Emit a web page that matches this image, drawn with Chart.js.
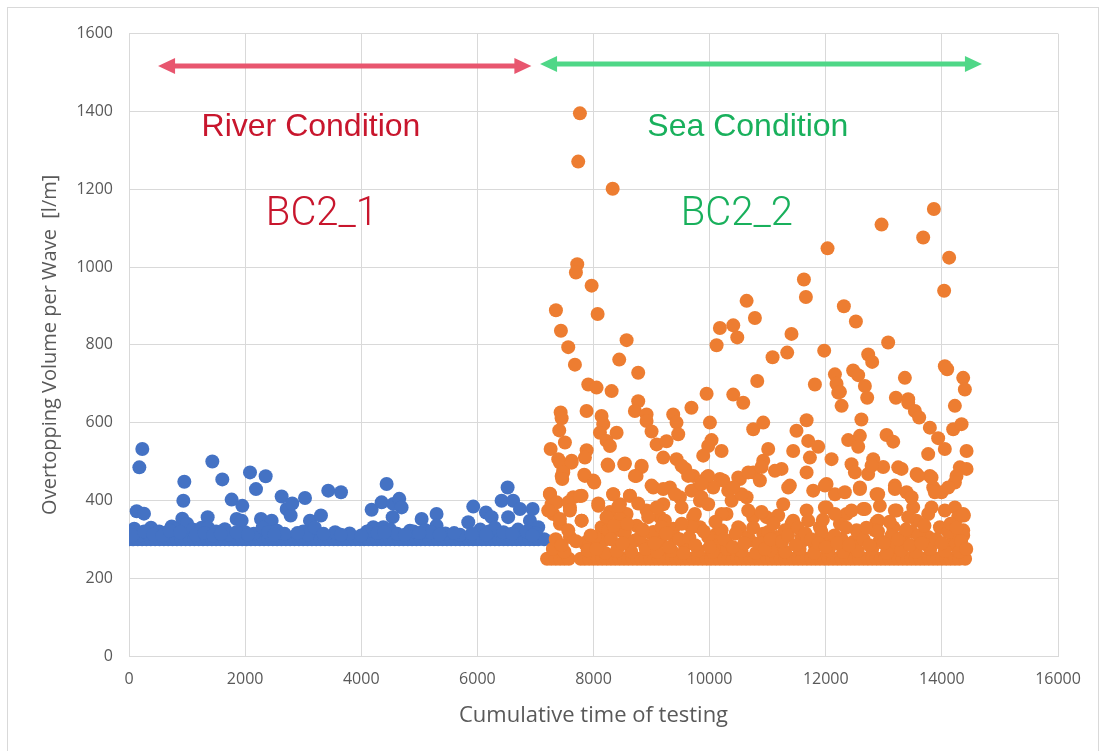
<!DOCTYPE html>
<html>
<head>
<meta charset="utf-8">
<script src="https://cdn.jsdelivr.net/npm/chart.js@4.4.1/dist/chart.umd.min.js"></script>
<style>
  html, body { margin: 0; padding: 0; background: #fff; }
  #frame { position: absolute; left: 7px; top: 7px; width: 1090px; height: 750px; border: 1px solid #d9d9d9; border-bottom: none; }
  canvas { position: absolute; left: 0; top: 0; }
</style>
</head>
<body>
<div id="frame"><canvas id="chart" width="1090" height="743"></canvas></div>
<script>
// Tick labels
const xTicks = [0, 2000, 4000, 6000, 8000, 10000, 12000, 14000, 16000];
const yTicks = [0, 200, 400, 600, 800, 1000, 1200, 1400, 1600];

// BC2_1 (river) - [time, volume]
const riverPts = [
  [0,300],[75,300],[150,300],[225,300],[300,300],[375,300],[450,300],[525,300],[600,300],[675,300],
  [750,300],[825,300],[900,300],[975,300],[1050,300],[1125,300],[1200,300],[1275,300],[1350,300],[1425,300],
  [1500,300],[1575,300],[1650,300],[1725,300],[1800,300],[1875,300],[1950,300],[2025,300],[2100,300],[2175,300],
  [2250,300],[2325,300],[2400,300],[2475,300],[2550,300],[2625,300],[2700,300],[2775,300],[2850,300],[2925,300],
  [3000,300],[3075,300],[3150,300],[3225,300],[3300,300],[3375,300],[3450,300],[3525,300],[3600,300],[3675,300],
  [3750,300],[3825,300],[3900,300],[3975,300],[4050,300],[4125,300],[4200,300],[4275,300],[4350,300],[4425,300],
  [4500,300],[4575,300],[4650,300],[4725,300],[4800,300],[4875,300],[4950,300],[5025,300],[5100,300],[5175,300],
  [5250,300],[5325,300],[5400,300],[5475,300],[5550,300],[5625,300],[5700,300],[5775,300],[5850,300],[5925,300],
  [6000,300],[6075,300],[6150,300],[6225,300],[6300,300],[6375,300],[6450,300],[6525,300],[6600,300],[6675,300],
  [6750,300],[6825,300],[6900,300],[6975,300],[7050,300],[7150,300],
  [91,327],[132,372],[178,485],[229,532],[258,366],[379,330],[735,333],[918,353],[936,399],[953,448],
  [1355,357],[1435,500],[1607,454],[1768,402],[1854,352],[1940,348],[1952,386],[2084,472],[2187,429],[2273,352],
  [2354,462],[2457,348],[2629,410],[2716,378],[2784,361],[2812,392],[3031,406],[3117,348],[3306,361],[3432,425],
  [3651,421],[4179,376],[4207,331],[4351,395],[4379,331],[4437,442],[4541,357],[4552,391],[4655,404],[4695,382],
  [4839,322],[5040,352],[5297,365],[5297,335],[5843,344],[5929,384],[6148,369],[6245,357],[6417,399],[6521,433],
  [6530,357],[6616,399],[6733,378],[6905,348],[6952,378],[7048,331],
  [40,318],[200,310],[320,315],[520,320],[650,318],[800,325],[1000,340],[1100,325],[1250,330],[1362,330],
  [1500,320],[1650,326],[1720,312],[2000,318],[2150,314],[2300,330],[2400,318],[2550,322],[2680,314],[3000,320],
  [3080,312],[3200,330],[3550,318],[3800,315],[4100,320],[4280,316],[4500,325],[4620,314],[4900,320],[5100,324],
  [5200,318],[5450,315],[5700,312],[6050,325],[6200,320],[6300,330],[6450,318],[6700,325],[6850,320],[7000,316],
  [60,310],[260,320],[420,312],[580,310],[700,322],[880,318],[1150,312],[1300,316],[1450,310],[1580,314],
  [1850,318],[2050,312],[2500,312],[2900,316],[3350,314],[3650,312],[4000,310],[4400,318],[4750,312],[5000,316],
  [5350,312],[5600,316],[5900,314],[6150,312],[6600,314],[6950,310]
];

// BC2_2 (sea) - [time, volume]
const seaPts = [
  [7200,250],[7275,250],[7350,250],[7425,250],[7500,250],[7575,250],[7780,250],[7850,250],[7925,250],[8000,250],
  [8075,250],[8150,250],[8225,250],[8300,250],[8375,250],[8450,250],[8525,250],[8600,250],[8675,250],[8750,250],
  [8825,250],[8900,250],[8975,250],[9050,250],[9125,250],[9200,250],[9275,250],[9350,250],[9425,250],[9500,250],
  [9575,250],[9650,250],[9725,250],[9800,250],[9875,250],[9950,250],[10025,250],[10100,250],[10175,250],[10250,250],
  [10325,250],[10400,250],[10475,250],[10550,250],[10625,250],[10700,250],[10775,250],[10850,250],[10925,250],[11000,250],
  [11075,250],[11150,250],[11225,250],[11300,250],[11375,250],[11450,250],[11525,250],[11600,250],[11675,250],[11750,250],
  [11825,250],[11900,250],[11975,250],[12050,250],[12125,250],[12200,250],[12275,250],[12350,250],[12425,250],[12500,250],
  [12575,250],[12650,250],[12725,250],[12800,250],[12875,250],[12950,250],[13025,250],[13100,250],[13175,250],[13250,250],
  [13325,250],[13400,250],[13475,250],[13550,250],[13625,250],[13700,250],[13775,250],[13850,250],[13925,250],[14000,250],
  [14075,250],[14150,250],[14225,250],[14300,250],[14400,250],
  [7766,1395],[7737,1271],[8330,1201],[7720,1007],[7697,986],[7968,952],[7353,889],[8071,879],[7439,836],[7565,794],
  [8570,812],[7680,749],[8443,762],[8770,728],[13862,1149],[12961,1109],[13678,1076],[14125,1024],[12031,1048],[14039,939],
  [11624,968],[11658,923],[10637,913],[10780,869],[10177,843],[10407,850],[10476,819],[10120,799],[11410,828],[12312,899],
  [12519,860],[13075,806],[11336,780],[11084,768],[11973,785],[12731,775],[12800,756],[12472,734],[12558,722],[14051,745],
  [14091,737],[14367,715],[14396,685],[13363,715],[10820,707],[11813,698],[12158,724],[12186,700],[12244,679],[12674,694],
  [9948,674],[10407,672],[13208,664],[13420,660],
  [7910,698],[8053,690],[8312,681],[10579,651],[9687,638],[7434,626],[7451,611],[7881,630],[8139,617],[8168,596],
  [8770,655],[8713,630],[8914,621],[8914,604],[9373,621],[9430,600],[10005,600],[7410,580],[8398,574],[8111,574],
  [9000,577],[9459,570],[10751,583],[7508,549],[8226,553],[8283,540],[9087,544],[9258,552],[10033,555],[9975,540],
  [10206,527],[7262,532],[7882,529],[7852,510],[7393,506],[7623,502],[9201,510],[9430,506],[9890,515],[8254,489],
  [8541,495],[8828,486],[8742,463],[7479,478],[7451,463],[7852,463],[7996,451],[9582,481],[9717,463],[9948,459],
  [10177,455],[10521,455],[10751,472],[10866,451],[9029,433],[9316,433],[9775,429],[10062,433],[10320,425],[7250,416],
  [7651,408],[7795,412],[8340,416],[8627,412],[7278,390],[7594,382],[8082,386],[8455,390],[9201,390],[9488,408],
  [9833,399],[10637,408],[7307,365],[7795,348],[8283,370],[8570,365],[8914,374],[9144,357],[9717,357],[10291,365],
  [10751,357],[7422,340],[8139,331],[8455,323],[8742,335],[9029,319],[9373,327],[9833,331],[10120,314],[10521,327],
  [10923,314],[7594,306],[7881,293],[8168,297],[8627,293],[9144,297],[9602,289],[10291,293],[10694,297],
  [12215,677],[12273,643],[12714,664],[13420,651],[13535,630],[13609,613],[14224,643],[12614,608],[10923,600],[11670,606],
  [11496,579],[11698,553],[11870,538],[12387,555],[12588,566],[12559,538],[13047,568],[13162,551],[13793,587],[13936,560],
  [14195,583],[14339,596],[14425,527],[14051,532],[13764,519],[11439,527],[11009,532],[10923,502],[11239,481],[11727,510],
  [12100,506],[12444,493],[12817,506],[12989,486],[13248,485],[13564,468],[13793,463],[14310,485],[14425,481],[14252,463],
  [11670,472],[12731,468],[11382,438],[11784,425],[12014,442],[12158,416],[12588,433],[12875,416],[13191,438],[13392,421],
  [13851,433],[13994,421],[11267,390],[11670,374],[12014,382],[12358,365],[12645,378],[12932,386],[13219,374],[13506,382],
  [13822,382],[14224,382],[14379,361],[10981,357],[11439,348],[11899,331],[12244,340],[12531,323],[12875,344],[13162,331],
  [13564,348],[13966,331],[14367,323],[11153,306],[11612,297],[12071,301],[12473,293],[12932,297],[13334,306],[13736,293],
  [14195,301],
  [7422,497],[7623,497],[7479,472],[7462,455],[7841,466],[8013,446],[8243,492],[8530,493],[8828,489],[8713,463],
  [7250,417],[7365,395],[7220,374],[7422,352],[7565,395],[7766,411],[7594,374],[7795,348],[8082,392],[8340,416],
  [8627,412],[8770,392],[8426,384],[8225,357],[8455,352],[9000,438],[9201,429],[9402,416],[9516,382],[9087,382],
  [8943,357],[9230,348],[9688,425],[9860,408],[9975,390],[9746,365],[10206,365],[10378,399],[10550,416],[10665,374],
  [9630,463],[9975,463],[10234,451],[10493,459],[10665,472],[9516,489],[9860,442],[10407,433],
  [7565,323],[8025,306],[8254,323],[8541,319],[8713,297],[9000,314],[9172,331],[9402,306],[9688,331],[9975,306],
  [10206,323],[10493,331],[10665,306],[7852,289],[8426,280],[8886,284],[9574,284],[10148,284],[7307,276],
  [10894,486],[11124,476],[12502,472],[12789,489],[13306,481],[13593,463],[13822,459],[14224,446],[11353,433],[11985,438],
  [12329,421],[12588,429],[12903,416],[13191,429],[13478,408],[13879,421],[14109,433],[10894,370],[11181,361],[11411,340],
  [11698,348],[11985,382],[12158,365],[12444,374],[12674,378],[12903,348],[13191,374],[13420,357],[13764,365],[14051,374],
  [14281,357],[14367,365],[11009,319],[11296,323],[11583,306],[11927,319],[12272,301],[12559,314],[12846,323],[13134,310],
  [13478,319],[13764,306],[14109,319],[14367,310],[11181,284],[11813,284],[12502,280],[13191,284],[13764,284],[14224,284],
  [7300,275],[7500,268],[7900,272],[8200,265],[8400,270],[8650,268],[8900,275],[9100,268],[9350,270],[9550,265],
  [9800,272],[10050,268],[10300,275],[10550,270],[10800,265],[11050,272],[11300,268],[11550,275],[11800,265],[12050,272],
  [12300,268],[12550,270],[12800,275],[13050,265],[13300,272],[13550,268],[13800,275],[14050,270],[14300,268],
  [7350,300],[7450,285],[7700,295],[7950,310],[8050,275],[8300,300],[8350,335],[8500,290],[8580,340],[8800,305],
  [8850,325],[9050,290],[9250,315],[9300,280],[9480,300],[9520,340],[9650,305],[9750,285],[9900,320],[10000,280],
  [10100,345],[10250,300],[10400,280],[10450,315],[10600,290],[10750,330],[10850,290],[10950,275],[11050,300],[11100,340],
  [11250,295],[11350,310],[11480,285],[11520,330],[11650,315],[11750,300],[11880,290],[11950,350],[12000,280],[12150,310],
  [12200,290],[12350,330],[12400,285],[12650,300],[12700,330],[12750,285],[12900,320],[13000,290],[13100,345],[13250,300],
  [13380,325],[13450,285],[13600,310],[13650,290],[13700,335],[13900,300],[14000,290],[14150,340],[14250,330],[14330,295],
  [14420,275]
];

// Annotations (in data units)
const arrows = [
  { from: 500, to: 6930, y: 1517, color: '#e8566f' },
  { from: 7080, to: 14690, y: 1522, color: '#4fd787' }
];
const notes = [
  { text: 'River Condition', x: 3134, y: 1359, color: '#c8162d', font: '32px "Liberation Sans", Arial' },
  { text: 'Sea Condition', x: 10659, y: 1359, color: '#19b05c', font: '32px "Liberation Sans", Arial' },
  { text: 'BC2_1', x: 3323, y: 1134, color: '#c8162d', font: '300 40px Roboto' },
  { text: 'BC2_2', x: 10470, y: 1134, color: '#19b05c', font: '300 40px Roboto' }
];

const annotate = {
  id: 'annotate',
  afterDraw(chart) {
    const ctx = chart.ctx;
    const xs = chart.scales.x, ys = chart.scales.y;
    ctx.save();
    arrows.forEach(a => {
      const x1 = xs.getPixelForValue(a.from);
      const x2 = xs.getPixelForValue(a.to);
      const y = ys.getPixelForValue(a.y);
      const head = 17, half = 8;
      ctx.strokeStyle = a.color;
      ctx.fillStyle = a.color;
      ctx.lineWidth = 5;
      ctx.beginPath();
      ctx.moveTo(x1 + head - 2, y);
      ctx.lineTo(x2 - head + 2, y);
      ctx.stroke();
      ctx.beginPath();
      ctx.moveTo(x1, y);
      ctx.lineTo(x1 + head, y - half);
      ctx.lineTo(x1 + head, y + half);
      ctx.closePath();
      ctx.fill();
      ctx.beginPath();
      ctx.moveTo(x2, y);
      ctx.lineTo(x2 - head, y - half);
      ctx.lineTo(x2 - head, y + half);
      ctx.closePath();
      ctx.fill();
    });
    ctx.textAlign = 'center';
    ctx.textBaseline = 'middle';
    notes.forEach(n => {
      ctx.font = n.font;
      ctx.fillStyle = n.color;
      ctx.fillText(n.text, xs.getPixelForValue(n.x), ys.getPixelForValue(n.y));
    });
    ctx.restore();
  }
};

const gridColor = '#d9d9d9';
const textColor = '#595959';

new Chart(document.getElementById('chart'), {
  type: 'scatter',
  data: {
    datasets: [
      {
        label: 'BC2_1',
        data: riverPts.map(p => ({ x: p[0], y: p[1] })),
        backgroundColor: '#4472c4',
        pointRadius: 7,
        pointBorderWidth: 0,
        order: 2
      },
      {
        label: 'BC2_2',
        data: seaPts.map(p => ({ x: p[0], y: p[1] })),
        backgroundColor: '#ed7d31',
        pointRadius: 7,
        pointBorderWidth: 0,
        order: 1
      }
    ]
  },
  options: {
    responsive: false,
    animation: false,
    layout: { padding: { top: 23, right: 40, left: 0, bottom: 0 } },
    plugins: { legend: { display: false }, tooltip: { enabled: false } },
    scales: {
      x: {
        type: 'linear',
        min: 0,
        max: 16000,
        afterBuildTicks: s => { s.ticks = xTicks.map(v => ({ value: v })); },
        afterFit: s => { s.height = 95; },
        grid: { color: gridColor, drawTicks: false },
        border: { color: gridColor },
        ticks: { color: textColor, padding: 14, font: { family: '"Open Sans"', size: 16 }, callback: v => String(v) },
        title: {
          display: true,
          text: 'Cumulative time of testing',
          color: textColor,
          font: { family: '"Open Sans"', size: 22 },
          padding: { top: 0, bottom: 22 }
        }
      },
      y: {
        min: 0,
        max: 1600,
        afterBuildTicks: s => { s.ticks = yTicks.map(v => ({ value: v })); },
        afterFit: s => { s.width = 121; },
        grid: { color: gridColor, drawTicks: false },
        border: { color: gridColor },
        ticks: { color: textColor, padding: 16, font: { family: '"Open Sans"', size: 16 }, callback: v => String(v) },
        title: {
          display: true,
          text: 'Overtopping Volume per Wave  [l/m]',
          color: textColor,
          font: { family: '"Open Sans"', size: 20 },
          padding: { top: 30, bottom: 0 }
        }
      }
    }
  },
  plugins: [annotate]
});
</script>
</body>
</html>
